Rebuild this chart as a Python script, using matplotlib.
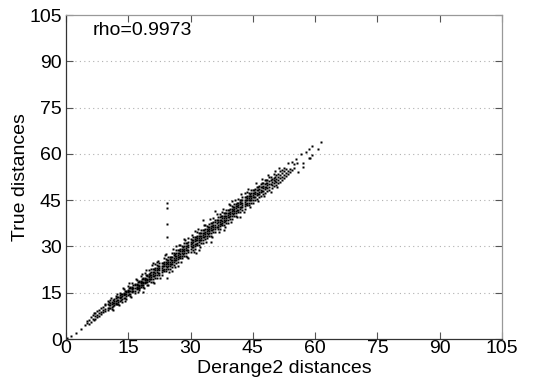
import matplotlib
matplotlib.use('Agg')
import matplotlib.pyplot as plt

plt.rcParams['font.family'] = ['Liberation Sans', 'DejaVu Sans']

# ---- data: (Derange2 distance, [true distances]) ----
low_cols = [
    (0.3, [0.3]), (1.1, [1.0]), (2.3, [2.0]), (3.5, [3.2]), (4.6, [4.5]),
    (5.0, [5.1, 5.9]), (5.6, [4.9, 6.3]), (6.0, [7.1, 5.6]), (6.4, [6.6, 7.8]),
    (6.8, [6.1, 8.3]), (7.1, [7.3, 8.4, 6.6]), (7.5, [7.9, 9.0, 7.2]),
    (8.0, [8.5, 9.4, 7.6]), (8.5, [8.8, 10.0, 8.1]), (9.0, [9.3, 10.4, 8.6]),
    (9.5, [9.8, 10.9, 9.1, 11.5]), (10.0, [10.2, 11.4, 9.4, 12.2]),
]

mid_cols = [
    (10.5, [10.1, 10.9, 11.8, 12.6]), (11.0, [10.4, 11.3, 12.1, 9.8]),
    (11.5, [11.0, 11.8, 12.9, 12.2]), (12.0, [11.2, 12.4, 13.3, 11.8, 14.0]),
    (12.5, [12.0, 12.8, 13.6, 11.4]), (13.0, [12.3, 13.2, 14.1, 13.7, 15.0]),
    (13.5, [12.9, 13.8, 14.6, 12.1]), (14.0, [13.2, 14.1, 15.0, 14.5, 16.1]),
    (14.5, [13.8, 14.7, 15.6, 13.0, 15.2]), (15.0, [14.2, 15.1, 16.0, 15.5, 17.2]),
    (15.5, [14.6, 15.6, 16.4, 14.0, 16.9]), (16.0, [15.2, 16.1, 17.0, 16.6, 18.3, 15.7]),
    (16.5, [15.6, 16.5, 17.4, 14.9, 17.9]), (17.0, [16.1, 17.0, 17.9, 17.4, 19.2, 16.6]),
    (17.5, [16.6, 17.6, 18.4, 15.8, 18.9, 17.2, 16.4]), (18.0, [17.0, 18.0, 18.9, 18.4, 20.4, 17.5]),
    (18.5, [17.6, 18.6, 19.4, 16.9, 19.9, 18.2, 15.2]), (19.0, [18.0, 19.0, 19.9, 19.4, 21.3, 18.5]),
    (19.5, [18.6, 19.6, 20.4, 17.6, 20.9, 19.1]), (20.0, [18.9, 20.1, 21.0, 20.5, 22.5, 19.6]),
]

dense_cols = [
    (20.5, [18.6, 19.5, 20.2, 20.9, 21.7, 22.7]), (21.0, [18.6, 19.6, 20.4, 21.1, 21.8, 22.7, 24.6]),
    (21.5, [19.9, 20.7, 21.5, 22.2, 23.0, 24.3]), (22.0, [19.9, 20.8, 21.6, 22.3, 23.0, 23.9, 25.0]),
    (22.5, [20.6, 21.5, 22.2, 22.9, 23.7, 24.7]), (23.0, [20.6, 21.6, 22.4, 23.1, 23.8, 24.7]),
    (23.5, [21.9, 22.7, 23.5, 24.2, 25.0, 26.3]), (24.0, [21.9, 22.8, 23.6, 24.3, 25.0, 25.9, 27.6]),
    (24.5, [22.6, 23.5, 24.2, 24.9, 25.7, 26.7]), (25.0, [22.6, 23.6, 24.4, 25.1, 25.8, 26.7]),
    (25.5, [23.4, 24.2, 25.0, 25.7, 26.5, 27.8, 21.9]), (26.0, [24.0, 24.9, 25.7, 26.4, 27.1, 28.0]),
    (26.5, [24.7, 25.6, 26.3, 27.0, 27.8, 28.8, 30.2]), (27.0, [24.8, 25.8, 26.6, 27.3, 28.0, 28.9, 23.6]),
    (27.5, [26.1, 26.9, 27.7, 28.4, 29.2, 30.5]), (28.0, [26.1, 27.0, 27.8, 28.5, 29.2, 30.1]),
    (28.5, [26.9, 27.8, 28.5, 29.2, 30.0, 31.0, 32.4]), (29.0, [26.9, 27.9, 28.7, 29.4, 30.1, 31.0]),
    (29.5, [28.2, 29.0, 29.8, 30.5, 31.3, 32.6, 26.1]), (30.0, [28.3, 29.2, 30.0, 30.7, 31.4, 32.3]),
    (30.5, [29.0, 29.9, 30.6, 31.3, 32.1, 33.1]), (31.0, [29.1, 30.1, 30.9, 31.6, 32.3, 33.2, 35.0]),
    (31.2, [28.0]), (31.5, [30.4, 31.2, 32.0, 32.7, 33.5, 34.8]),
    (32.0, [30.4, 31.3, 32.1, 32.8, 33.5, 34.4, 28.8]), (32.5, [31.2, 32.1, 32.8, 33.5, 34.3, 35.3]),
    (33.0, [31.2, 32.2, 33.0, 33.7, 34.4, 35.3, 38.6]), (33.5, [32.5, 33.3, 34.1, 34.8, 35.6, 36.9]),
    (34.0, [32.6, 33.5, 34.3, 35.0, 35.7, 36.6]), (34.5, [33.3, 34.2, 34.9, 35.6, 36.4, 37.4]),
    (35.0, [33.4, 34.4, 35.2, 35.9, 36.6, 37.5, 31.5]), (35.5, [34.7, 35.5, 36.3, 37.0, 37.8, 39.1]),
    (35.9, [41.6]), (36.0, [34.7, 35.6, 36.4, 37.1, 37.8, 38.7]),
    (36.5, [35.5, 36.4, 37.1, 37.8, 38.6, 39.6]), (37.0, [35.5, 36.5, 37.3, 38.0, 38.7, 39.6, 40.6]),
    (37.5, [36.8, 37.6, 38.4, 39.1, 39.9, 41.2]), (38.0, [36.9, 37.8, 38.6, 39.3, 40.0, 40.9, 35.2]),
    (38.5, [37.6, 38.5, 39.2, 39.9, 40.7, 41.7]), (39.0, [37.7, 38.7, 39.5, 40.2, 40.9, 41.8]),
    (39.5, [39.0, 39.8, 40.6, 41.3, 42.1, 43.4]), (40.0, [39.0, 39.9, 40.7, 41.4, 42.1, 43.0, 44.6]),
    (40.5, [39.8, 40.7, 41.4, 42.1, 42.9, 43.9]), (41.0, [39.8, 40.8, 41.6, 42.3, 43.0, 43.9]),
    (41.5, [41.1, 41.9, 42.7, 43.4, 44.2, 45.5]), (42.0, [41.2, 42.1, 42.9, 43.6, 44.3, 45.2, 39.6]),
    (42.5, [41.9, 42.8, 43.5, 44.2, 45.0, 46.0]), (43.0, [42.0, 43.0, 43.8, 44.5, 45.2, 46.1, 47.4]),
    (43.5, [43.3, 44.1, 44.9, 45.6, 46.4, 47.7]), (44.0, [43.3, 44.2, 45.0, 45.7, 46.4, 47.3]),
    (44.5, [44.1, 45.0, 45.7, 46.4, 47.2, 48.2]), (45.0, [44.1, 45.1, 45.9, 46.6, 47.3, 48.2]),
]

fill_cols = [
    (10.25, [9.9, 10.9, 11.9]), (11.25, [10.6, 11.6, 12.7]), (12.25, [11.5, 12.6, 13.5]),
    (13.25, [12.5, 13.5, 14.5]), (14.25, [13.4, 14.6, 15.6]), (15.25, [14.5, 15.6, 16.6]),
    (16.25, [15.4, 16.6, 17.5]), (17.25, [16.5, 17.6, 18.6]), (18.25, [17.4, 18.6, 19.5]),
    (19.25, [18.5, 19.6, 20.6]), (20.25, [19.4, 20.6, 21.5]), (21.25, [20.4, 21.6, 22.6]),
    (22.25, [21.4, 22.6, 23.5]), (23.25, [22.4, 23.6, 24.6]), (24.25, [23.4, 24.6, 25.5]),
    (25.25, [24.4, 25.7, 26.7]), (26.25, [25.5, 26.8, 27.7]), (27.25, [26.6, 27.9, 28.9]),
    (28.25, [27.7, 29.0, 29.9]), (29.25, [28.8, 30.1, 31.1]), (30.25, [29.8, 31.1, 32.1]),
    (31.25, [30.9, 32.2, 33.2]), (32.25, [32.0, 33.3, 34.2]), (33.25, [33.1, 34.4, 35.4]),
    (34.25, [34.1, 35.4, 36.4]), (35.25, [35.2, 36.5, 37.5]), (36.25, [36.3, 37.6, 38.5]),
    (37.25, [37.4, 38.7, 39.7]), (38.25, [38.4, 39.7, 40.7]), (39.25, [39.5, 40.8, 41.8]),
    (40.25, [40.6, 41.9, 42.8]), (41.25, [41.7, 43.0, 44.0]), (42.25, [42.7, 44.0, 45.0]),
    (43.25, [43.8, 45.1, 46.1]), (44.25, [44.9, 46.2, 47.1]), (45.25, [46.0, 47.3, 48.2]),
    (46.25, [47.0, 48.3, 49.3]), (47.25, [48.1, 49.4, 50.4]), (48.25, [49.2, 50.5, 51.4]),
    (49.25, [50.3, 51.6, 52.5]), (50.25, [51.3, 52.6]),
]

edge_cols = [
    (10.75, [13.4]), (11.25, [9.3]), (12.25, [14.6]), (12.75, [10.9]), (13.75, [16.4]),
    (14.25, [12.2]), (15.25, [18.0]), (15.75, [13.6]), (16.75, [19.6]), (17.25, [15.1]),
    (18.25, [21.2]), (18.75, [16.5]), (19.25, [22.4]), (19.75, [17.5]),
    (20.75, [24.0]), (21.25, [18.2]), (22.25, [25.4]), (22.75, [19.7]), (23.75, [27.1]),
    (24.75, [21.6]), (25.75, [29.1]), (26.25, [23.2]), (27.25, [30.6]), (27.75, [24.9]),
    (28.75, [32.2]), (29.25, [26.6]), (30.25, [33.8]), (30.75, [28.2]), (31.75, [35.5]),
    (32.25, [29.8]), (33.25, [37.1]), (33.75, [31.5]), (34.75, [38.8]), (35.25, [33.1]),
    (36.25, [40.5]), (36.75, [34.8]), (37.75, [42.0]), (38.25, [36.4]), (39.25, [43.7]),
    (39.75, [38.0]), (40.75, [45.2]), (41.25, [39.6]), (42.25, [46.9]), (42.75, [41.2]),
    (43.75, [48.5]), (44.25, [42.9]),
    (45.75, [50.6]), (46.25, [44.6]), (47.25, [51.8]), (47.75, [46.2]),
    (48.75, [53.1]), (49.25, [47.6]), (50.25, [54.6]), (50.75, [49.2]),
]

upper_cols = [
    (45.5, [45.0, 46.1, 46.9, 47.7, 48.6]), (46.0, [45.4, 46.6, 47.4, 48.2, 49.3]),
    (46.5, [46.0, 47.0, 47.8, 48.7, 49.6]), (47.0, [46.4, 47.5, 48.4, 49.2, 50.3]),
    (47.5, [47.0, 48.0, 48.8, 49.6, 50.7]), (48.0, [47.3, 48.5, 49.3, 50.2, 51.4]),
    (48.5, [47.9, 49.0, 49.8, 50.7, 51.6]), (49.0, [48.3, 49.4, 50.3, 51.2, 52.5]),
    (49.5, [48.8, 50.0, 50.8, 51.9]), (50.0, [49.5, 50.4, 51.4, 52.3, 53.4]),
    (50.5, [50.0, 51.0, 51.9, 53.0]), (51.0, [50.4, 51.5, 52.6, 53.5]),
    (51.2, [55.5]), (51.5, [51.0, 52.1, 53.1, 54.3]),
    (52.0, [51.5, 52.6, 53.8, 54.8]), (52.4, [55.5]), (52.5, [52.3, 53.3, 54.4]),
    (53.0, [52.8, 53.9, 55.0]), (53.5, [53.5, 54.6, 56.9]),
    (54.0, [54.0, 55.2]), (54.5, [54.8, 57.5]), (55.0, [55.3, 56.6]),
    (55.3, [58.2]), (55.7, [56.9]), (55.9, [54.2]), (56.5, [59.9]),
    (57.0, [55.8, 57.1]), (57.7, [60.5]), (58.5, [61.5, 58.5]), (58.7, [58.5]),
    (59.3, [59.6, 62.6]), (60.6, [61.6]), (61.4, [63.8]),
]

outlier_cols = [
    (24.3, [19.7, 33.1, 37.3, 42.4, 44.2]),
]

# ---- flatten ----
xs, ys = [], []
for group in (low_cols, mid_cols, dense_cols, fill_cols, edge_cols, upper_cols, outlier_cols):
    for xv, yl in group:
        for yv in yl:
            xs.append(xv)
            ys.append(yv)

ticks = [0, 15, 30, 45, 60, 75, 90, 105]
rho_text = 'rho=0.9973'

fig = plt.figure(figsize=(5.38, 3.83), dpi=100)
ax = fig.add_axes([66 / 538, 44 / 383, 436 / 538, 324 / 383])

for t in ticks[1:-1]:
    ax.axhline(t, color='#b0b0b0', lw=0.8, ls=(0, (1, 3)), zorder=0)

ax.plot(xs, ys, 's', ms=1.6, mfc='black', mec='none', zorder=2, antialiased=False)

ax.set_xlim(0, 105)
ax.set_ylim(0, 105)
ax.set_xticks(ticks)
ax.set_yticks(ticks)
ax.tick_params(direction='in', top=True, right=True, length=5, width=0.8,
               labelsize=14, color='#555555')
ax.tick_params(axis='x', pad=1)
ax.tick_params(axis='y', pad=3)
for side in ('left', 'bottom'):
    ax.spines[side].set_color('#333333')
for side in ('top', 'right'):
    ax.spines[side].set_color('#999999')
for s in ax.spines.values():
    s.set_linewidth(0.9)

ax.set_xlabel('Derange2 distances', fontsize=14, labelpad=2)
ax.set_ylabel('True distances', fontsize=14, labelpad=0)
ax.text(6.3, 100.0, rho_text, fontsize=14, va='center', ha='left')

fig.savefig('out.png', dpi=100)
